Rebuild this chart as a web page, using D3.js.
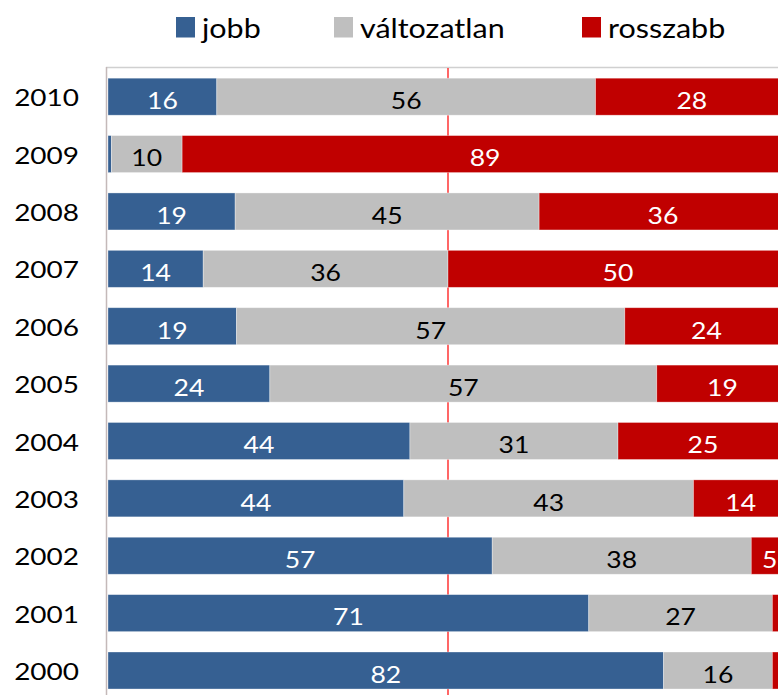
<!DOCTYPE html>
<html>
<head>
<meta charset="utf-8">
<script src="https://cdn.jsdelivr.net/npm/d3@7"></script>
<style>
  body { margin: 0; background: #fff; }
  text { font-family: Lato, "Open Sans", sans-serif; }
</style>
</head>
<body>
<div id="chart"></div>
<script>
// years, top to bottom
const years = ["2010", "2009", "2008", "2007", "2006", "2005", "2004", "2003", "2002", "2001", "2000"]
// shares in percent
const jobb        = [16.0, 0.5, 18.7, 14.0, 18.9, 23.8, 44.4, 43.5, 56.5, 70.7, 81.7]
const valtozatlan = [55.7, 10.4, 44.7, 36.0, 57.1, 56.9, 30.6, 42.6, 38.1, 27.0, 16.0]
const rosszabb    = [28.3, 89.1, 36.4, 50.0, 24.0, 19.3, 25.0, 13.9, 5.4, 2.3, 2.3]

const seriesNames = ["jobb", "változatlan", "rosszabb"]
const colors = ["#366092", "#bfbfbf", "#c00000"]
const labelColors = ["#fff", "#000", "#fff"]

const width = 778, height = 695
const stretch = 1.13   // glyphs in the original are a bit wide

const rows = years.map((y, i) => ({
    year: y,
    "jobb": jobb[i],
    "változatlan": valtozatlan[i],
    "rosszabb": rosszabb[i]
}))

const svg = d3.select("#chart")
    .append("svg")
    .attr("width", width)
    .attr("height", height)

const x = d3.scaleLinear()
    .domain([0, 100])
    .range([108, 788])

const y = d3.scaleBand()
    .domain(years)
    .range([68, 699.2])
    .paddingInner(0.355)
    .paddingOuter(0.1775)

const stack = d3.stack().keys(seriesNames)
const layers = stack(rows)

// plot frame: top edge
svg.append("line")
    .attr("x1", 106).attr("x2", width)
    .attr("y1", 67.5).attr("y2", 67.5)
    .attr("stroke", "#d0d0d0")
    .attr("stroke-width", 1.5)

// 50% reference line, behind the bars
svg.append("line")
    .attr("x1", x(50)).attr("x2", x(50))
    .attr("y1", 68).attr("y2", height)
    .attr("stroke", "#ff0000")
    .attr("stroke-width", 1.2)

// bars
const layer = svg.selectAll("g.layer")
    .data(layers)
    .join("g")
    .attr("class", "layer")
    .attr("fill", (d, i) => colors[i])

layer.selectAll("rect")
    .data(d => d)
    .join("rect")
    .attr("x", d => x(d[0]))
    .attr("y", d => y(d.data.year))
    .attr("width", d => x(d[1]) - x(d[0]))
    .attr("height", y.bandwidth())
    .attr("stroke", "rgba(255,255,255,0.45)")
    .attr("stroke-width", 0.75)

// value labels
layers.forEach((lay, i) => {
    svg.append("g")
        .selectAll("text")
        .data(lay.filter(d => d[1] - d[0] >= 3))
        .join("text")
        .attr("transform", d => `translate(${(x(d[0]) + x(d[1])) / 2},${y(d.data.year) + y.bandwidth() / 2 + 12.3}) scale(${stretch},1)`)
        .attr("text-anchor", "middle")
        .attr("font-size", 23.5)
        .attr("fill", labelColors[i])
        .text(d => Math.round(d[1] - d[0]))
})

// left axis
svg.append("line")
    .attr("x1", 106.5).attr("x2", 106.5)
    .attr("y1", 67).attr("y2", height)
    .attr("stroke", "#c4b9b9")
    .attr("stroke-width", 1.5)

svg.append("g")
    .selectAll("text")
    .data(years)
    .join("text")
    .attr("transform", d => `translate(79,${y(d) + y.bandwidth() / 2 + 9.6}) scale(1.19,1)`)
    .attr("text-anchor", "end")
    .attr("font-size", 23.5)
    .attr("fill", "#000")
    .text(d => d)

// legend
const legendX = [176, 334, 582]
const legend = svg.append("g")
    .selectAll("g")
    .data(seriesNames)
    .join("g")

legend.append("rect")
    .attr("x", (d, i) => legendX[i])
    .attr("y", 17)
    .attr("width", 19)
    .attr("height", 20.5)
    .attr("fill", (d, i) => colors[i])

legend.append("text")
    .attr("transform", (d, i) => `translate(${legendX[i] + 26},37.5) scale(${stretch},1)`)
    .attr("font-size", 27)
    .attr("fill", "#000")
    .text(d => d)
</script>
</body>
</html>
